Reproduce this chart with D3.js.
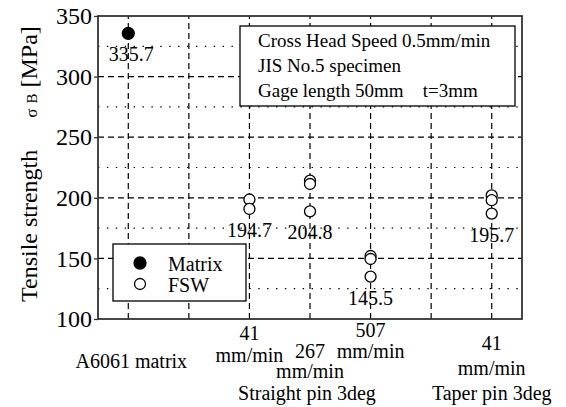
<!DOCTYPE html>
<html>
<head>
<meta charset="utf-8">
<script src="https://cdn.jsdelivr.net/npm/d3@7"></script>
<style>
  body { margin: 0; background: #fff; }
  svg { display: block; }
  svg text { font-family: "Liberation Serif", "Times New Roman", serif; fill: #000; }
</style>
</head>
<body>
<svg id="chart" width="566" height="407"></svg>
<script>
// Data
// category slot (center of each column, 0..7 domain)
var groups = [
    { slot: 0.5, kind: "Matrix", values: [335.7], mean: "335.7" },
    { slot: 2.5, kind: "FSW", values: [198.6, 190.8], mean: "194.7" },
    { slot: 3.5, kind: "FSW", values: [214.2, 211.4, 188.8], mean: "204.8" },
    { slot: 4.5, kind: "FSW", values: [152, 149.5, 135], mean: "145.5" },
    { slot: 6.5, kind: "FSW", values: [202, 198, 187], mean: "195.7" }
];

var yTicks = [100, 150, 200, 250, 300, 350];
var yMinor = [125, 175, 225, 275, 325];
var xGrid = [0.5, 1.5, 2.5, 3.5, 4.5, 5.5, 6.5];

// x labels: slot, lines
var xLabels = [
    { slot: 0.5, lines: ["A6061 matrix"] },
    { slot: 2.5, lines: ["41", "mm/min"] },
    { slot: 3.5, lines: ["267", "mm/min"] },
    { slot: 4.5, lines: ["507", "mm/min"] },
    { slot: 6.5, lines: ["41", "mm/min"] }
];
var groupLabels = [
    { slot: 3.45, text: "Straight pin 3deg" },
    { slot: 6.5, text: "Taper pin 3deg" }
];

var infoLines = ["Cross Head Speed 0.5mm/min", "JIS No.5 specimen", "Gage length 50mm\u00a0\u00a0\u00a0\u00a0t=3mm"];
var legendItems = ["Matrix", "FSW"];

document.addEventListener("DOMContentLoaded", function() {
    const svg = d3.select("#chart");
    const margin = { top: 16, left: 98, right: 44, bottom: 88 };
    const width = 566, height = 407;
    const innerWidth = width - margin.left - margin.right;
    const innerHeight = height - margin.top - margin.bottom;

    const xScale = d3.scaleLinear().domain([0, 7]).range([margin.left, margin.left + innerWidth]);
    const yScale = d3.scaleLinear().domain([100, 350]).range([margin.top + innerHeight, margin.top]);

    // grid
    const grid = svg.append("g").attr("stroke", "#000").attr("stroke-width", 1.2);
    grid.selectAll(".vgrid").data(xGrid).enter().append("line")
        .attr("x1", d => xScale(d)).attr("x2", d => xScale(d))
        .attr("y1", yScale(100)).attr("y2", yScale(350))
        .attr("stroke-dasharray", "6,4");
    grid.selectAll(".hgrid").data(yTicks.slice(1, -1)).enter().append("line")
        .attr("x1", xScale(0)).attr("x2", xScale(7))
        .attr("y1", d => yScale(d)).attr("y2", d => yScale(d))
        .attr("stroke-dasharray", "6,4");
    grid.selectAll(".mgrid").data(yMinor).enter().append("line")
        .attr("x1", xScale(0)).attr("x2", xScale(7))
        .attr("y1", d => yScale(d)).attr("y2", d => yScale(d))
        .attr("stroke-dasharray", "1.4,7.5");

    // Y axis
    const yAxis = d3.axisLeft(yScale).tickValues(yTicks).tickSize(4).tickPadding(2);
    const gy = svg.append("g").attr("transform", `translate(${margin.left},0)`).call(yAxis);
    gy.attr("font-family", null);
    gy.select(".domain").remove();
    gy.selectAll("text").attr("font-size", 24);
    gy.selectAll(".tick line").attr("stroke", "#333").attr("stroke-width", 1.3);

    // frame
    svg.append("rect")
        .attr("x", xScale(0)).attr("y", yScale(350))
        .attr("width", xScale(7) - xScale(0)).attr("height", yScale(100) - yScale(350))
        .attr("fill", "none").attr("stroke", "#333").attr("stroke-width", 1.8);

    // info box
    const info = svg.append("g");
    info.append("rect").attr("x", 240).attr("y", 26).attr("width", 275).attr("height", 80)
        .attr("fill", "#fff").attr("stroke", "#000").attr("stroke-width", 1.3);
    info.selectAll("text").data(infoLines).enter().append("text")
        .attr("x", 258).attr("y", (d, i) => 47 + i * 25)
        .attr("font-size", 19).text(d => d);

    // points
    const pts = svg.append("g");
    groups.forEach(g => {
        pts.selectAll(null).data(g.values).enter().append("circle")
            .attr("cx", xScale(g.slot)).attr("cy", d => yScale(d))
            .attr("r", g.kind === "Matrix" ? 6 : 5.5)
            .attr("fill", g.kind === "Matrix" ? "#000" : "#fff")
            .attr("stroke", "#000").attr("stroke-width", 1.3);
        svg.append("text")
            .attr("x", xScale(g.slot) + (g.kind === "Matrix" ? 3 : 0))
            .attr("y", yScale(d3.min(g.values)) + 28)
            .attr("text-anchor", "middle").attr("font-size", 20)
            .text(g.mean);
    });

    // legend
    const leg = svg.append("g");
    leg.append("rect").attr("x", 113).attr("y", 244).attr("width", 133).attr("height", 57)
        .attr("fill", "#fff").attr("stroke", "#000").attr("stroke-width", 1.3);
    legendItems.forEach((d, i) => {
        leg.append("circle").attr("cx", 140).attr("cy", 263 + i * 21)
            .attr("r", i === 0 ? 6 : 5.5)
            .attr("fill", i === 0 ? "#000" : "#fff")
            .attr("stroke", "#000").attr("stroke-width", 1.3);
        leg.append("text").attr("x", 168).attr("y", 271 + i * 21)
            .attr("font-size", 20).text(d);
    });

    // x labels
    const firstBase = [368, 340, 358, 337, 350];
    const lineStep = [0, 22, 20, 21, 25];
    xLabels.forEach((d, i) => {
        d.lines.forEach((t, j) => {
            svg.append("text")
                .attr("x", xScale(d.slot) + (i === 0 ? 3 : 0))
                .attr("y", firstBase[i] + j * lineStep[i])
                .attr("text-anchor", "middle").attr("font-size", 20)
                .text(t);
        });
    });
    groupLabels.forEach(d => {
        svg.append("text").attr("x", xScale(d.slot)).attr("y", 400)
            .attr("text-anchor", "middle").attr("font-size", 20).text(d.text);
    });

    // y axis title
    const yt = svg.append("text")
        .attr("transform", "translate(37,302) rotate(-90)")
        .attr("font-size", 24);
    yt.append("tspan").text("Tensile strength");
    yt.append("tspan").attr("dx", 32).attr("font-size", 17).text("\u03c3");
    yt.append("tspan").attr("dx", 5).attr("font-size", 15).text("B");
    yt.append("tspan").attr("dx", 6).text("[MPa]");
});
</script>
</body>
</html>
